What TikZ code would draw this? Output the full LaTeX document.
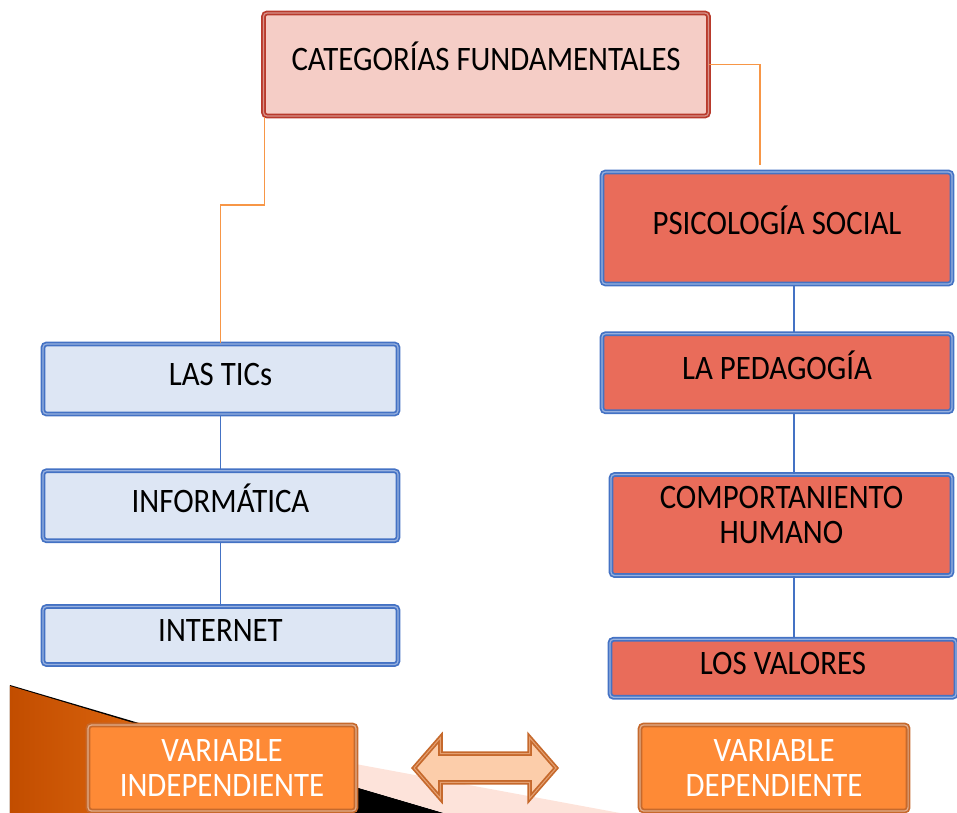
\documentclass[tikz,border=0pt]{standalone}
\usepackage{fontspec}
\setmainfont[FakeStretch=0.9]{Carlito}
\usepackage{tikz}
\usetikzlibrary{positioning,shapes.arrows,calc}
\definecolor{CatRed}{HTML}{B83A2C}
\definecolor{CatPink}{HTML}{F5CDC6}
\definecolor{BoxBlue}{HTML}{4472C4}
\definecolor{BoxBlueLight}{HTML}{DDE6F4}
\definecolor{SocRed}{HTML}{E96C5A}
\definecolor{VarOrange}{HTML}{FE8A36}
\definecolor{VarEdge}{HTML}{C6692C}
\definecolor{ArrPeach}{HTML}{FCCDAA}
\definecolor{LinkOrange}{HTML}{F79646}
\definecolor{WedgeDark}{HTML}{C24D00}
\definecolor{WedgeLight}{HTML}{F27A1A}
\definecolor{BandPink}{HTML}{FDE3DA}

\begin{document}
\begin{tikzpicture}[
  every node/.style={font=\fontsize{19.5}{20}\selectfont},
  boundary/.style 2 args={draw=#1, fill=#2, line width=1pt, double=#1!55!white, double distance=0.7pt, rounded corners=2pt, align=center, inner sep=0pt},
  oneline/.style={text height=0.92em, text depth=0.2em},
  varbox/.style={boundary={VarEdge}{VarOrange}, text=white, minimum width=5.36cm, minimum height=1.72cm},
  dblarrow/.style={double arrow, draw=VarEdge, fill=ArrPeach, line width=1pt, double=VarEdge!45!ArrPeach, double distance=0.6pt, minimum height=2.84cm, inner xsep=0pt, inner ysep=0.27cm, double arrow head extend=0.32cm, double arrow tip angle=98},
  catlink/.style={draw=LinkOrange, line width=0.8pt},
  collink/.style={draw=BoxBlue, line width=0.8pt}
]
\clip (0,0) rectangle (19.14,-16.26);
% background band at the bottom
\fill[black] (0.2,-13.7) -- (8.88,-16.26) -- (0.2,-16.26) -- cycle;
\fill[BandPink] (2.9,-14.5) -- (12.4,-16.26) -- (8.88,-16.26) -- cycle;
\shade[left color=WedgeDark, right color=WedgeLight] (0.2,-13.72) -- (4.0,-14.86) -- (5.2,-16.26) -- (0.2,-16.26) -- cycle;

\node[boundary={CatRed}{CatPink}, oneline, minimum width=8.9cm, minimum height=2.06cm] (cat) at (9.72,-1.29) {CATEGORÍAS FUNDAMENTALES};

\node[boundary={BoxBlue}{SocRed}, oneline, minimum width=7.0cm, minimum height=2.24cm] (psico) at (15.54,-4.56) {PSICOLOGÍA SOCIAL};
\node[boundary={BoxBlue}{SocRed}, oneline, minimum width=7.0cm, minimum height=1.56cm, below=0.96cm of psico] (peda) {LA PEDAGOGÍA};
\node[boundary={BoxBlue}{SocRed}, minimum width=6.82cm, minimum height=2.02cm, below=1.22cm of peda, xshift=0.09cm] (comp) {COMPORTANIENTO\\HUMANO\\[-8pt]};
\node[boundary={BoxBlue}{SocRed}, oneline, minimum width=6.92cm, minimum height=1.16cm, below=1.24cm of comp, xshift=0.03cm] (valores) {LOS VALORES};

\node[boundary={BoxBlue}{BoxBlueLight}, oneline, minimum width=7.1cm, minimum height=1.4cm] (tics) at (4.41,-7.58) {LAS TICs};
\node[boundary={BoxBlue}{BoxBlueLight}, oneline, minimum width=7.1cm, minimum height=1.4cm, below=1.1cm of tics] (info) {INFORMÁTICA};
\node[boundary={BoxBlue}{BoxBlueLight}, oneline, minimum width=7.1cm, minimum height=1.16cm, below=1.28cm of info] (internet) {INTERNET};

\node[varbox] (indep) at (4.44,-15.36) {VARIABLE\\INDEPENDIENTE};
\node[dblarrow, right=1.12cm of indep] (relacion) {};
\node[varbox, right=1.64cm of relacion] (dep) {VARIABLE\\DEPENDIENTE};

\draw[catlink] ([xshift=0.04cm]cat.south west) -- ++(0,-1.76) -| (tics.north);
\draw[catlink] (cat.east) -| ([xshift=-0.34cm,yshift=0.12cm]psico.north);

\draw[collink] (tics.south) -- (info.north);
\draw[collink] (info.south) -- (internet.north);
\coordinate (rcol) at (15.88,0);
\draw[collink] (psico.south -| rcol) -- (peda.north -| rcol);
\draw[collink] (peda.south -| rcol) -- (comp.north -| rcol);
\draw[collink] (comp.south -| rcol) -- (valores.north -| rcol);
\end{tikzpicture}
\end{document}
